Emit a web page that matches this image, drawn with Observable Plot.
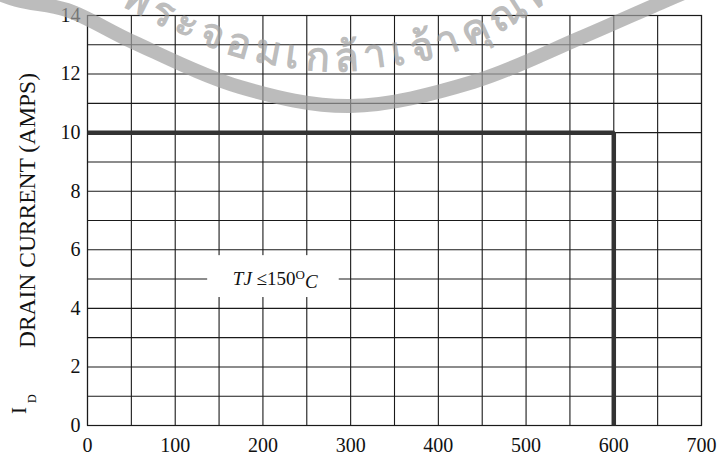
<!DOCTYPE html>
<html>
<head>
<meta charset="utf-8">
<script src="https://cdn.jsdelivr.net/npm/d3@7"></script>
<script src="https://cdn.jsdelivr.net/npm/@observablehq/plot@0.6"></script>
<style>
  html, body { margin: 0; padding: 0; background: #ffffff; }
  #chart { width: 718px; height: 456px; }
</style>
</head>
<body>
<div id="chart"></div>
<script>
// Data: safe operating boundary (drain-source voltage vs drain current)
const voltage = [0, 600, 600];
const current = [10, 10, 0];

// Axis ticks
const xTickLabels = [0, 100, 200, 300, 400, 500, 600, 700];
const yTickLabels = [0, 2, 4, 6, 8, 10, 12, 14];
const xGrid = d3.range(0, 701, 50);
const yGrid = d3.range(0, 15, 1);

// Annotation
const noteText = ["TJ ≤150OC"];
const noteX = [214];
const noteY = [5];
const noteBoxX = [137, 287];
const noteBoxY = [4.37, 5.8];

const yLabel = "DRAIN CURRENT (AMPS)";
const watermark = "พระจอมเกล้าเจ้าคุณทหารลาดกระบัง";

const pts = voltage.map((v, i) => ({v, c: current[i]}));

const plot = Plot.plot({
  width: 718,
  height: 456,
  marginLeft: 87,
  marginRight: 17,
  marginTop: 15,
  marginBottom: 31,
  style: {fontFamily: "'Liberation Serif', 'Times New Roman', serif", fontSize: "19px", background: "#ffffff", color: "#111"},
  x: {domain: [0, 700]},
  y: {domain: [0, 14]},
  marks: [
    Plot.gridX(xGrid, {stroke: "#1a1a1a", strokeOpacity: 1, strokeWidth: 1.1}),
    Plot.gridY(yGrid, {stroke: "#1a1a1a", strokeOpacity: 1, strokeWidth: 1.1}),
    Plot.rect([{x1: noteBoxX[0], x2: noteBoxX[1], y1: noteBoxY[0], y2: noteBoxY[1]}], {x1: "x1", x2: "x2", y1: "y1", y2: "y2", fill: "white"}),
    Plot.frame({stroke: "#1a1a1a", strokeWidth: 1.2}),
    Plot.line(pts, {x: "v", y: "c", stroke: "#333333", strokeWidth: 4.5, strokeLinejoin: "miter", strokeLinecap: "butt"}),
    Plot.axisX(xTickLabels, {tickSize: 0, tickPadding: 12, fontSize: 20, tickFormat: d => String(d)}),
    Plot.axisY(yTickLabels, {tickSize: 0, tickPadding: 7, fontSize: 20, tickFormat: d => String(d)}),
    Plot.text(noteText, {x: noteX, y: noteY, text: d => d, fontSize: 19, className: "note"}),
    Plot.text([yLabel], {y: [7.34], frameAnchor: "left", textAnchor: "middle", dx: -60, rotate: -90, text: d => d, fontSize: 23.5}),
    Plot.text(["I"], {y: [0.51], frameAnchor: "left", textAnchor: "middle", dx: -68, rotate: -90, text: d => d, fontSize: 21}),
    Plot.text(["D"], {y: [0.92], frameAnchor: "left", textAnchor: "middle", dx: -55, rotate: -90, text: d => d, fontSize: 12})
  ]
});

document.getElementById("chart").appendChild(plot);

// Rich formatting for the annotation (italic TJ, superscript O, italic C)
const svg = d3.select(plot);
svg.selectAll("g.note text").each(function() {
  const t = d3.select(this);
  t.text(null);
  t.append("tspan").attr("font-style", "italic").text("TJ ");
  t.append("tspan").text("≤150");
  t.append("tspan").attr("dy", "-0.45em").attr("font-size", "13px").text("O");
  t.append("tspan").attr("dy", "0.45em").attr("font-style", "italic").text("C");
});

// Faint watermark: curved band and curved text (scan decoration)
const wm = svg.append("g").attr("pointer-events", "none");
const curve = d3.line().curve(d3.curveCatmullRom.alpha(0.5));
const bandPts = [[-20, -14], [17, 0], [67, 10], [133, 42], [240, 87], [350, 106], [473, 82], [580, 38], [667, 0], [710, -18]];
wm.append("path")
  .attr("d", curve(bandPts))
  .attr("fill", "none")
  .attr("stroke", "#a0a0a0")
  .attr("stroke-opacity", 0.7)
  .attr("stroke-width", 14);
const textPts = [[100, -5], [133, 12], [160, 25], [223, 52], [280, 66], [340, 71], [390, 66], [440, 57], [470, 46], [500, 32], [535, 10], [570, -16]];
wm.append("defs").append("path")
  .attr("id", "wmpath")
  .attr("d", curve(textPts));
wm.append("text")
  .attr("font-family", "'Noto Sans', 'DejaVu Sans', sans-serif")
  .attr("font-size", 40)
  .attr("font-weight", "bold")
  .attr("text-anchor", "start")
  .attr("fill", "#a0a0a0")
  .attr("fill-opacity", 0.7)
  .attr("letter-spacing", 6)
  .append("textPath")
  .attr("href", "#wmpath")
  .attr("startOffset", 22)
  .text(watermark);
</script>
</body>
</html>
